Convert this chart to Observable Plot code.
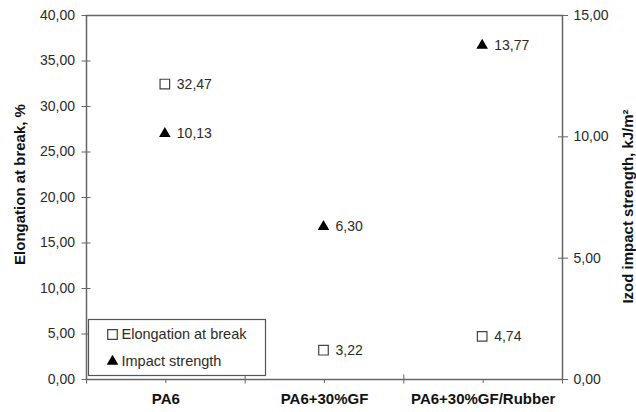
<!DOCTYPE html>
<html>
<head>
<meta charset="utf-8">
<script src="https://cdn.jsdelivr.net/npm/d3@7"></script>
<script src="https://cdn.jsdelivr.net/npm/@observablehq/plot@0.6"></script>
<style>
  html, body { margin: 0; padding: 0; background: #fff; }
</style>
</head>
<body>
<script>
const categories = ["PA6", "PA6+30%GF", "PA6+30%GF/Rubber"];
const elongation = [32.47, 3.22, 4.74];      // %, left axis
const impact = [10.13, 6.30, 13.77];         // kJ/m², right axis
const leftTicks = [0, 5, 10, 15, 20, 25, 30, 35, 40];
const rightTicks = [0, 5, 10, 15];
const leftTitle = "Elongation at break, %";
const rightTitle = "Izod impact strength, kJ/m²";
const legendLabels = ["Elongation at break", "Impact strength"];

const leftMax = 40, rightMax = 15;
const k = leftMax / rightMax; // map right axis values onto the left scale
const fmt = v => v.toFixed(2).replace(".", ",");

const elongData = categories.map((c, i) => ({i: i + 0.5, v: elongation[i]}));
const impactData = categories.map((c, i) => ({i: i + 0.5, v: impact[i] * k, raw: impact[i]}));

const axisColor = "#666";
const textColor = "#2b2b2b";

const chart = Plot.plot({
  width: 636,
  height: 412,
  marginLeft: 86,
  marginRight: 74,
  marginTop: 15,
  marginBottom: 33,
  style: {fontFamily: "'Liberation Sans', Arial, sans-serif", fontSize: "14px", color: textColor, background: "#fff"},
  x: {domain: [0, categories.length]},
  y: {domain: [0, leftMax]},
  marks: [
    Plot.frame({stroke: axisColor, strokeWidth: 1.5}),
    // left axis
    Plot.axisY({anchor: "left", ticks: leftTicks, tickFormat: fmt, tickSize: 9, dx: 4.5, tickPadding: 7, label: null, stroke: axisColor, fontSize: 14}),
    // right axis
    Plot.axisY({anchor: "right", ticks: rightTicks.map(v => v * k), tickFormat: d => fmt(d / k), tickSize: 10, dx: -5, tickPadding: 6, label: null, stroke: axisColor, fontSize: 14}),
    // bottom boundary ticks
    Plot.axisX({ticks: d3.range(0, categories.length + 1), tickFormat: () => "", tickSize: 9, dy: -4.5, label: null, stroke: axisColor}),
    // bottom category ticks + labels
    Plot.axisX({ticks: categories.map((c, i) => i + 0.5), tickFormat: d => categories[Math.round(d - 0.5)], tickSize: 4, tickPadding: 10, label: null, stroke: axisColor, fontWeight: "bold", fontSize: 15, fill: "#111"}),
    // axis titles
    Plot.text([leftTitle], {text: d => d, frameAnchor: "left", textAnchor: "middle", lineAnchor: "middle", dx: -66, dy: -13, rotate: -90, fontWeight: "bold", fontSize: 15, fill: "#111"}),
    Plot.text([rightTitle], {text: d => d, frameAnchor: "right", textAnchor: "middle", lineAnchor: "middle", dx: 66, dy: 9, rotate: -90, fontWeight: "bold", fontSize: 15, fill: "#111"}),
    // legend box
    Plot.frame({insetLeft: 2, insetRight: 297, insetTop: 304, insetBottom: 4, fill: "#fff", stroke: "#555", strokeWidth: 1.2}),
    Plot.dot([0], {frameAnchor: "bottom-left", dx: 26, dy: -45, symbol: "square", r: 5.4, fill: "#fff", stroke: "#444", strokeWidth: 1.2}),
    Plot.text([legendLabels[0]], {text: d => d, frameAnchor: "bottom-left", dx: 35, dy: -45, textAnchor: "start", lineAnchor: "middle", fontSize: 14.5, fill: textColor}),
    Plot.dot([0], {frameAnchor: "bottom-left", dx: 26, dy: -18, symbol: "triangle", r: 4.3, fill: "#000", stroke: "none"}),
    Plot.text([legendLabels[1]], {text: d => d, frameAnchor: "bottom-left", dx: 35, dy: -18, textAnchor: "start", lineAnchor: "middle", fontSize: 14.5, fill: textColor}),
    // data points
    Plot.dot(elongData, {x: "i", y: "v", dx: -1, symbol: "square", r: 5.4, fill: "#fff", stroke: "#444", strokeWidth: 1.2}),
    Plot.text(elongData, {x: "i", y: "v", text: d => fmt(d.v), dx: 11, textAnchor: "start", fontSize: 14, fill: textColor}),
    Plot.dot(impactData, {x: "i", y: "v", dx: -1, symbol: "triangle", r: 4.3, fill: "#000", stroke: "none"}),
    Plot.text(impactData, {x: "i", y: "v", text: d => fmt(d.raw), dx: 11, textAnchor: "start", fontSize: 14, fill: textColor})
  ]
});
document.body.appendChild(chart);
</script>
</body>
</html>
